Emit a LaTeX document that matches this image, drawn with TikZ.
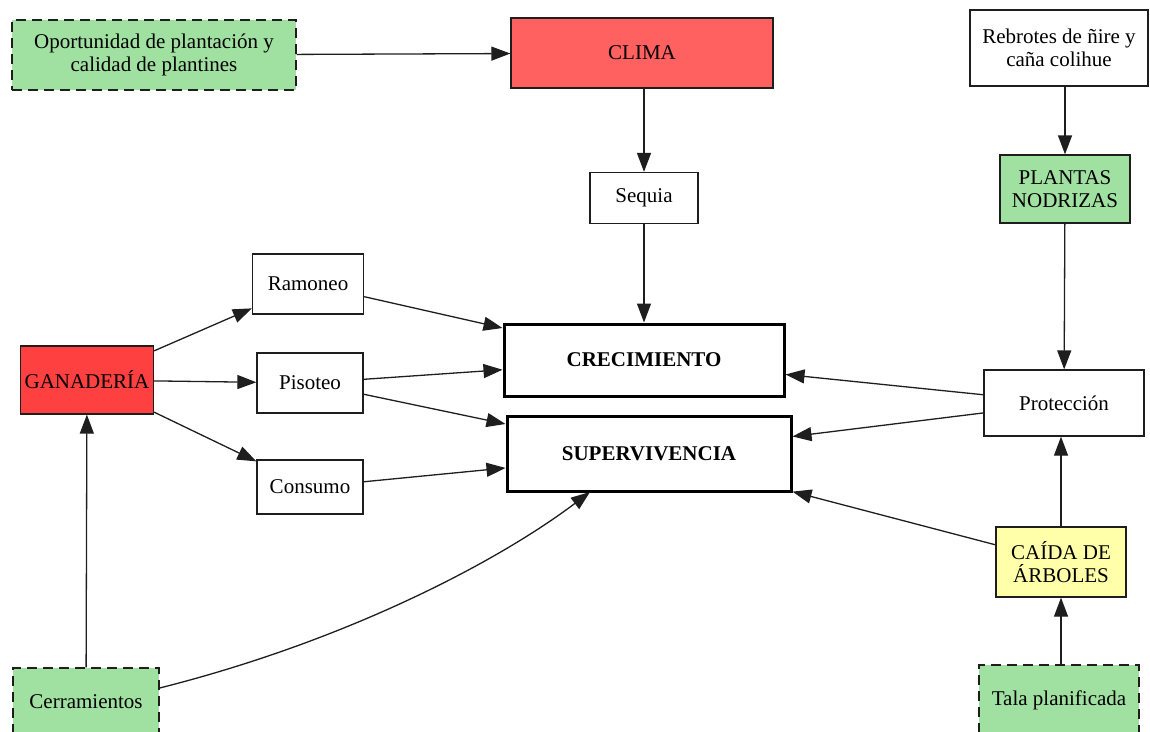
\documentclass[tikz,border=0pt]{standalone}
\usepackage{fontspec}
\setmainfont{LiberationSerif}[Extension=.ttf, UprightFont=*-Regular, BoldFont=*-Bold]
\usetikzlibrary{arrows.meta}
\definecolor{gfill}{RGB}{160,224,160}
\definecolor{climafill}{RGB}{255,96,96}
\definecolor{ganfill}{RGB}{255,64,64}
\definecolor{yfill}{RGB}{255,255,170}
\definecolor{edgec}{RGB}{30,30,30}
\begin{document}
\begin{tikzpicture}[x=1pt,y=-1pt,
  box/.style={draw=edgec, line width=1.3pt, align=center, inner sep=0pt,
    font=\fontsize{21}{23}\selectfont},
  dashbox/.style={dash pattern=on 10pt off 6pt},
  bigbox/.style={draw=black, line width=3pt, align=center, inner sep=0pt,
    font=\fontsize{21}{23}\selectfont\bfseries},
  arr/.style={draw=edgec, line width=1.3pt, -{Triangle[length=19pt,width=14pt]}}]
\useasboundingbox (0,0) rectangle (1150,731);

\node[box, dashbox, fill=gfill, minimum width=284pt, minimum height=70pt] (oport) at (154,55) {Oportunidad de plantación y\\calidad de plantines};
\node[box, fill=climafill, minimum width=262pt, minimum height=70pt] (clima) at (642,53) {CLIMA};
\node[box, fill=white, minimum width=178pt, minimum height=76pt] (rebrotes) at (1059,48) {Rebrotes de ñire y\\caña colihue};
\node[box, fill=gfill, minimum width=130pt, minimum height=68pt] (plantas) at (1065,189) {PLANTAS\\NODRIZAS};
\node[box, fill=white, minimum width=108pt, minimum height=51pt] (sequia) at (644,198) {Sequia};
\node[box, fill=white, minimum width=111pt, minimum height=60pt] (ramoneo) at (308,284) {Ramoneo};
\node[box, fill=ganfill, minimum width=133pt, minimum height=68pt] (ganad) at (87,380) {GANADERÍA};
\node[box, fill=white, minimum width=106pt, minimum height=60pt] (pisoteo) at (310,383) {Pisoteo};
\node[box, fill=white, minimum width=106pt, minimum height=54pt] (consumo) at (310,487) {Consumo};
\node[bigbox, fill=white, minimum width=280pt, minimum height=72pt] (crec) at (644,360) {CRECIMIENTO};
\node[bigbox, fill=white, minimum width=284pt, minimum height=75pt] (superv) at (649,454) {SUPERVIVENCIA};
\node[box, fill=white, minimum width=160pt, minimum height=66pt] (prot) at (1064,403) {Protección};
\node[box, fill=yfill, minimum width=130pt, minimum height=70pt] (caida) at (1061,562) {CAÍDA DE\\ÁRBOLES};
\node[box, dashbox, fill=gfill, minimum width=146pt, minimum height=68pt] (cerr) at (86,702) {Cerramientos};
\node[box, dashbox, fill=gfill, minimum width=160pt, minimum height=70pt] (tala) at (1059,700) {Tala planificada};

\draw[arr] (oport) -- (clima);
\draw[arr] (sequia |- clima.south) -- (sequia);
\draw[arr] (sequia) -- (crec);
\draw[arr] (plantas |- rebrotes.south) -- (plantas);
\draw[arr] (plantas) -- (prot);
\draw[arr] (prot) -- (crec);
\draw[arr] (prot) -- (superv);
\draw[arr] (caida) -- (caida |- prot.south);
\draw[arr] (caida) -- (superv);
\draw[arr] (tala.north -| caida) -- (caida);
\draw[arr] (ganad) -- (ramoneo);
\draw[arr] (ganad) -- (pisoteo);
\draw[arr] (ganad) -- (consumo);
\draw[arr] (ramoneo) -- (crec);
\draw[arr] (pisoteo) -- (crec);
\draw[arr] (pisoteo) -- (superv);
\draw[arr] (consumo) -- (superv);
\draw[arr] (cerr) -- (ganad);
\coordinate (svend) at (590,492);
\draw[arr] (cerr.east |- 0,688) .. controls (350,640) and (500,560) .. (svend);
\end{tikzpicture}
\end{document}
